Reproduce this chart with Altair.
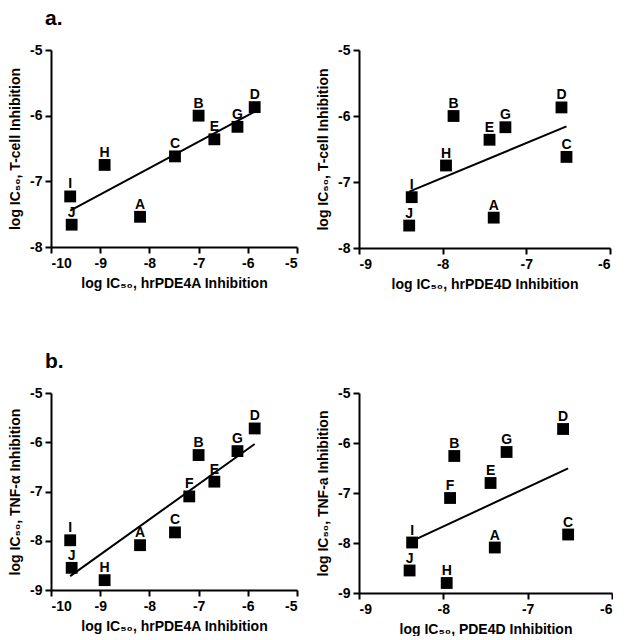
import altair as alt
import pandas as pd

FONT = "Liberation Sans"

# ---- data ----
letters_a = ["A", "B", "C", "D", "E", "G", "H", "I", "J"]
pde4a_a = [-8.19, -7.00, -7.48, -5.86, -6.68, -6.21, -8.91, -9.61, -9.58]
pde4d_a = [-7.39, -7.87, -6.52, -6.58, -7.44, -7.25, -7.96, -8.37, -8.40]
tcell = [-7.54, -6.00, -6.62, -5.87, -6.36, -6.17, -6.75, -7.23, -7.66]

letters_b = ["A", "B", "C", "D", "E", "F", "G", "H", "I", "J"]
pde4a_b = [-8.19, -7.00, -7.48, -5.86, -6.68, -7.19, -6.21, -8.91, -9.61, -9.58]
pde4d_b = [-7.39, -7.87, -6.52, -6.58, -7.44, -7.92, -7.25, -7.96, -8.37, -8.40]
tnf = [-8.09, -6.26, -7.83, -5.72, -6.80, -7.10, -6.18, -8.80, -7.99, -8.55]

df_a = pd.DataFrame({"label": letters_a, "pde4a": pde4a_a, "pde4d": pde4d_a, "resp": tcell})
df_b = pd.DataFrame({"label": letters_b, "pde4a": pde4a_b, "pde4d": pde4d_b, "resp": tnf})


def panel(df, xcol, xdom, ydom, xtitle, ytitle, w, h):
    xs = alt.Scale(domain=xdom, nice=False, zero=False)
    ys = alt.Scale(domain=ydom, nice=False, zero=False)
    x = alt.X(f"{xcol}:Q", scale=xs,
              axis=alt.Axis(values=list(range(xdom[0], xdom[1] + 1)), title=xtitle,
                            labelExpr="'' + datum.value"))
    y = alt.Y("resp:Q", scale=ys,
              axis=alt.Axis(values=list(range(ydom[0], ydom[1] + 1)), title=ytitle,
                            labelExpr="'' + datum.value"))
    base = alt.Chart(df)
    line = base.transform_regression(xcol, "resp").mark_line(
        color="black", strokeWidth=2).encode(x=x, y=y)
    pts = base.mark_square(size=140, color="black", opacity=1).encode(x=x, y=y)
    lbl = base.mark_text(font=FONT, fontWeight="bold", fontSize=14, color="black",
                         baseline="alphabetic", dy=-8).encode(x=x, y=y, text="label:N")
    return alt.layer(line, pts, lbl).properties(width=w, height=h)


a_left = panel(df_a, "pde4a", [-10, -5], [-8, -5],
               "log IC₅₀, hrPDE4A Inhibition", "log IC₅₀, T-cell Inhibition", 246, 197)
a_right = panel(df_a, "pde4d", [-9, -6], [-8, -5],
                "log IC₅₀,  hrPDE4D Inhibition", "log IC₅₀, T-cell Inhibition", 251, 198)
b_left = panel(df_b, "pde4a", [-10, -5], [-9, -5],
               "log IC₅₀, hrPDE4A Inhibition", "log IC₅₀, TNF-α Inhibition", 246, 197)
b_right = panel(df_b, "pde4d", [-9, -6], [-9, -5],
                "log IC₅₀, PDE4D Inhibition", "log IC₅₀, TNF-a Inhibition", 253, 200)

title_style = dict(anchor="start", frame="group", fontSize=21, fontWeight="bold",
                   font=FONT, color="black", dx=-6, offset=14)

row1 = alt.hconcat(a_left, a_right, spacing=18).properties(
    title=alt.Title("a.", **title_style))
row2 = alt.hconcat(b_left, b_right, spacing=18).properties(
    title=alt.Title("b.", **title_style))

chart = alt.vconcat(row1, row2, spacing=60).properties(
    padding={"left": 0, "top": 0, "right": 0, "bottom": 0}
).configure_view(stroke=None).configure_axis(
    grid=False,
    domainColor="black", domainWidth=2,
    tickColor="black", tickWidth=2, tickSize=6,
    labelFont=FONT, labelFontSize=14, labelFontWeight="bold", labelColor="black",
    labelPadding=3,
    titleFont=FONT, titleFontSize=14, titleFontWeight="bold", titleColor="black",
    titlePadding=6,
).configure_axisY(titlePadding=7)

chart.save("out.html", embed_options={"renderer": "svg", "actions": False})
